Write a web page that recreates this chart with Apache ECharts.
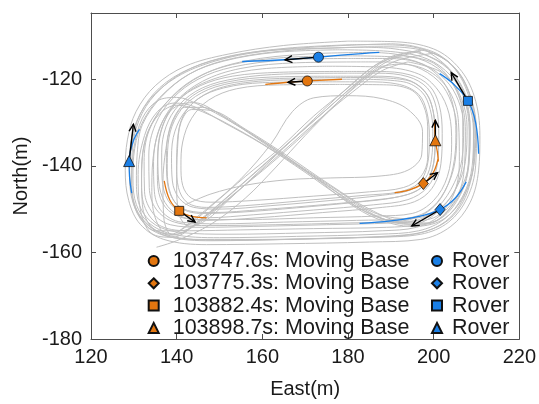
<!DOCTYPE html>
<html>
<head>
<meta charset="utf-8">
<script src="https://cdn.jsdelivr.net/npm/echarts@6/dist/echarts.min.js"></script>
<style>html,body{margin:0;padding:0;background:#fff}#c{width:539px;height:404px}</style>
</head>
<body>
<div id="c"></div>
<script>
// ---- axis ticks ----
const xTicks = [120, 140, 160, 180, 200, 220];
const yTicks = [-180, -160, -140, -120];

// ---- gray trajectory laps (East, North) ----
const lapO1 = [[180,-111.2],[165,-112.2],[152,-114.2],[142,-117],[135,-121.5],[130.5,-127.5],[128.5,-134],[128,-141],[128.8,-148],[131.5,-153.5],[137,-157],[147,-158.2],[165,-158],[185,-157.6],[197,-157],[204,-154],[208.5,-148.5],[210.5,-141],[210.8,-133],[209.5,-124],[206,-117.5],[200,-113],[190,-111.3],[180,-111.2]];
const lapO2 = [[182,-112],[166,-112.8],[153,-114.6],[143,-117.6],[136,-122],[131.5,-128],[129.5,-135],[129,-142],[129.8,-148.5],[132.5,-153],[138,-156.3],[148,-157.3],[166,-157],[186,-156.5],[197,-155.8],[203.5,-153],[207.8,-147.5],[209.8,-140],[210,-132],[208.8,-124.5],[205.5,-118],[199.5,-113.8],[191,-112.1],[182,-112]];
const lapO3 = [[184,-112.6],[168,-113.2],[154,-115],[144.5,-118],[137.5,-122.8],[132.5,-129],[130.2,-136],[129.8,-143],[130.6,-149],[133.5,-153.2],[139,-155.8],[150,-156.6],[168,-156.3],[187,-155.8],[196.5,-155],[202.5,-152.3],[206.8,-147],[209,-140],[209.3,-132],[208,-125],[204.8,-119],[199,-114.8],[191,-113],[184,-112.6]];
const lapO4 = [[178,-113.2],[163,-113.8],[151,-115.8],[143,-118.8],[136.5,-124],[132,-130.5],[130.8,-137],[130.6,-144],[131.6,-149.8],[135,-153.6],[141,-155.4],[152,-155.8],[170,-155.5],[188,-155],[196,-154.2],[201.5,-151.5],[205.8,-146.3],[208.2,-139.5],[208.5,-131.5],[207.2,-124.5],[204,-119.2],[198.5,-115.3],[190,-113.6],[178,-113.2]];
const lapO5 = [[186,-113.8],[170,-114.2],[156,-115.8],[146,-119],[138.5,-124.5],[133.8,-131],[132,-138],[131.8,-145],[133,-150.5],[136.5,-154],[143,-155],[155,-154.8],[172,-154.5],[189,-154.2],[196,-153.5],[200.5,-151],[204.8,-146],[207.4,-139],[207.8,-131],[206.5,-124.5],[203.3,-119.5],[198,-115.8],[191,-114.2],[186,-113.8]];
const lapO6 = [[180,-114.6],[165,-115],[153,-116.6],[144,-120],[137.5,-125.5],[133.5,-132],[132.4,-139],[132.5,-146],[134.5,-151],[138.5,-153.6],[146,-154.2],[158,-154],[175,-153.6],[190,-153.2],[196,-152.6],[200,-150.5],[204,-145.5],[206.6,-138.5],[207,-131],[205.8,-125],[202.8,-120.2],[197.5,-116.5],[190,-114.8],[180,-114.6]];
const lapO7 = [[190,-111.8],[175,-112.4],[160,-113.6],[149,-115.8],[140,-119.5],[133.5,-125],[130,-131.5],[129,-139],[129.5,-146.5],[131.8,-152],[136.5,-155.5],[145,-157],[160,-157],[180,-156.6],[194,-156],[202,-153.5],[206.5,-149],[209,-142],[209.8,-134],[209,-126],[206.5,-119.5],[201.5,-114.5],[195,-112.3],[190,-111.8]];
const lapO8 = [[176,-112.8],[161,-113.4],[150,-115.2],[141.5,-118.4],[135,-123.5],[131.2,-129.5],[129.6,-137],[129.5,-145],[130.8,-151],[134.5,-155],[141,-156.8],[153,-157.2],[172,-156.8],[190,-156.2],[198.5,-155],[204,-151.8],[207.6,-146],[209.5,-138],[209.6,-129.5],[207.6,-121.5],[203.5,-116],[197,-113.2],[187,-112.5],[176,-112.8]];
const lapM1 = [[183,-116],[168,-116.2],[155,-117.5],[146,-120.5],[139.5,-125.5],[135.8,-132],[134.6,-139],[134.8,-146],[136.5,-150.5],[141,-153],[150,-153.4],[165,-153],[182,-152.6],[193,-152.2],[198.5,-150.5],[202.5,-146],[205,-139],[205.4,-131.5],[204.2,-125.5],[201.2,-120.5],[195.5,-117],[188,-116],[183,-116]];
const lapM2 = [[175,-117],[160,-117.6],[150,-119.5],[142.5,-123],[137.8,-128.5],[135.8,-135],[135.5,-142],[136.2,-147.5],[139,-151],[144.5,-152.4],[156,-152.4],[172,-152],[187,-151.6],[195,-151],[200,-148],[203.2,-142.5],[204.2,-135],[203.6,-128],[201,-122.5],[196.5,-118.8],[188,-117.2],[175,-117]];
const lapM3 = [[180,-115.2],[165,-115.6],[153,-117.2],[145,-120],[139,-124.5],[135,-130.5],[133.5,-137.5],[133.6,-145],[135.2,-150],[139.5,-153],[148,-153.8],[163,-153.6],[180,-153.2],[192,-152.8],[198,-151],[202,-147],[204.5,-140.5],[205.2,-132.5],[204.4,-125.5],[201.8,-120],[196.5,-116.2],[188,-115.2],[180,-115.2]];
const lapI1 = [[180,-118.6],[165,-118.8],[154,-119.8],[146,-122],[140.5,-126],[137.5,-131],[136.5,-137],[136.6,-143],[138,-148],[141.5,-151],[147,-152],[158,-151.3],[172,-150.2],[186,-149],[194,-147.8],[198.5,-145],[200.8,-140],[201.2,-133],[200.6,-126.5],[198.5,-122],[194,-119.4],[187,-118.6],[180,-118.6]];
const lapI2 = [[176,-119.3],[162,-119.5],[152,-120.6],[145,-123],[140.5,-127],[138.2,-132],[137.6,-138],[137.8,-143.5],[139.3,-148],[142.5,-150.3],[148,-150.8],[160,-150.1],[174,-149],[187,-147.8],[194,-146.6],[198,-144.2],[200,-139.5],[200.4,-133],[199.8,-127],[197.8,-122.6],[193.5,-120],[186,-119.3],[176,-119.3]];
const lapI3 = [[183,-120],[168,-120.1],[156,-120.8],[148,-122.8],[142.5,-126.8],[139.6,-132],[138.8,-138],[139,-143.5],[140.6,-147.5],[144,-149.6],[150,-150],[162,-149.2],[176,-148],[188,-146.8],[194.5,-145.6],[198,-143],[199.5,-138.5],[199.8,-132],[199.2,-127],[197.3,-123],[193,-120.6],[183,-120]];
const lapI4 = [[172,-120.6],[160,-120.8],[151,-122],[145,-124.5],[141.5,-128.5],[140.2,-134],[140,-140],[140.4,-145],[142.5,-148.5],[147,-149.6],[156,-149.2],[170,-148],[184,-146.8],[192,-146],[196.5,-144],[198.5,-140],[199,-133.5],[198.4,-127.5],[196.5,-123.5],[192,-121.2],[184,-120.6],[172,-120.6]];
const lapI5 = [[178,-121.2],[164,-121.3],[154,-122.2],[147.5,-124.8],[143.5,-129],[141.4,-134.5],[141,-140],[141.4,-144.5],[143.5,-147.5],[148,-148.4],[158,-148],[172,-147],[185,-146],[193,-145],[197,-142.5],[198.6,-138],[198.6,-131],[197.6,-126],[195,-122.6],[189,-121.3],[178,-121.2]];
const lapI6 = [[185,-119.6],[170,-119.7],[158,-120.2],[149,-121.8],[143,-125],[139.5,-129.5],[138,-135],[137.8,-141],[138.6,-146.5],[141,-149.8],[146,-151],[155,-150.7],[168,-149.7],[182,-148.4],[191,-147.3],[196.8,-145.3],[199.6,-141],[200.3,-134],[199.9,-127.5],[198.2,-123.2],[194,-120.3],[185,-119.6]];
const lapI7 = [[179,-118.2],[164,-118.4],[153,-119.3],[145.5,-121.5],[140,-125.2],[136.8,-130.5],[135.6,-137],[135.8,-143.5],[137.3,-148.5],[140.8,-151.6],[147,-152.6],[159,-152],[174,-150.8],[188,-149.6],[195.5,-148.3],[199.6,-145.2],[201.7,-139.5],[202,-132.5],[201.3,-126],[199,-121.5],[194.5,-119],[187,-118.2],[179,-118.2]];
const lapF1 = [[200,-114],[192,-115.5],[186,-118.5],[178,-125],[170,-132.5],[162,-139.5],[154,-146],[147,-151.5],[141,-155],[135,-155],[131,-151],[129.5,-144],[130,-136],[132,-129],[135.5,-125],[140,-124.2],[145,-125.8],[153,-130],[162,-135.5],[172,-142.5],[180,-148.5],[187,-152.3],[195,-154],[202,-152.5],[207,-147],[209.3,-139],[209.3,-130],[207.5,-122],[204,-116.5],[200,-114]];
const lapF2 = [[196,-113.5],[189,-115.5],[183,-120],[175,-127],[167,-134],[159,-141],[151,-148],[145,-153],[139,-156.5],[134,-155.5],[131.5,-150],[131,-142],[132.5,-133],[135.5,-127.5],[139.5,-125.5],[144,-126.3],[151,-130],[160,-135],[170,-141.5],[178,-147],[186,-151.5],[194,-153.5],[201,-152.5],[205.8,-147.5],[208.2,-140],[208.5,-131],[207,-123],[203,-117],[196,-113.5]];
const lapF3 = [[194,-116],[188,-118],[181,-123],[173,-129.5],[165,-136.5],[157,-143.5],[150,-149.5],[144,-154],[139,-156],[137,-152],[136.8,-144],[137.5,-136],[139,-130],[141.8,-126.5],[146,-126.5],[153,-130],[163,-136.5],[173,-143],[182,-149],[190,-152.8],[198,-153.5],[204,-149.5],[207,-142],[207.4,-132],[206,-124],[202,-118.5],[194,-116]];
const lapF4 = [[198,-113.2],[190,-114.8],[184,-118.5],[176,-125.5],[168,-133],[160,-140],[152,-147],[146,-152],[140,-155.8],[134.5,-154.5],[132,-149],[131.8,-141],[133,-133],[136,-128],[140,-126],[146,-127.5],[155,-132],[165,-138],[175,-144.5],[184,-150.5],[192,-153],[199,-153.2],[204.5,-149],[207.8,-142],[208.3,-132],[207,-124],[203.5,-117.5],[198,-113.2]];
const lapF5 = [[192,-114.5],[186,-117],[180,-122],[172,-128.5],[164,-136],[156,-142.5],[149,-148.5],[143,-153.5],[138,-156],[135,-152],[134.2,-145],[134.8,-136],[136.8,-129.5],[140,-126.2],[144,-125.4],[150,-128],[158,-133],[168,-139.5],[178,-146],[186,-150.8],[194,-152.2],[200.5,-150.5],[205,-145.5],[206.8,-138],[206.8,-129],[205,-122],[200,-116.3],[192,-114.5]];
const lapF6 = [[188,-117],[182,-121],[175,-127],[167,-134],[159,-141.5],[152,-148],[147,-152.5],[143,-154],[140.5,-151],[140,-144],[140.2,-136],[141,-130],[143.5,-127],[148,-127.2],[156,-131.5],[166,-137.8],[176,-144.5],[185,-150],[193,-152.8],[200,-152],[204.5,-147],[206,-139],[205.8,-130],[203.8,-123],[199,-118.2],[192,-116.5],[188,-117]];
const lapS1 = [[140,-155.5],[147,-150],[155,-143],[162,-135],[167,-127.5],[172,-124.3],[180,-123.8],[188,-124.5],[194,-127],[197.4,-132],[197.2,-137.5],[194,-141],[187,-142.4],[176,-142.8],[166,-143.2],[156,-144.5],[148,-146.5],[142,-149]];
const lapT1 = [[135.3,-158.8],[140,-157.3],[148,-153.5],[156,-147.5],[163,-140.5],[170,-133],[177,-126],[184,-119.5],[190,-115.5],[197,-113.5]];
const grayLaps = [lapO1, lapO2, lapO3, lapO4, lapO5, lapO6, lapO7, lapO8, lapM1, lapM2, lapM3,
  lapI1, lapI2, lapI3, lapI4, lapI5, lapI6, lapI7, lapF1, lapF2, lapF3, lapF4, lapF5, lapF6, lapS1, lapT1];

// ---- highlighted segments ----
const baseSeg1 = [[178.6,-120],[170.5,-120.4],[166,-120.7],[160.7,-121.2]];
const baseSeg2 = [[201,-138.5],[200.2,-141],[199,-142.8],[197.6,-144.1],[194.5,-145.5],[190.9,-146.2]];
const baseSeg3 = [[137.1,-143.5],[138.4,-147.9],[140.6,-150.4],[143.5,-151.7],[147,-152]];
const baseSeg4 = [[200.2,-129.5],[200.4,-134.1],[200.9,-137],[201.1,-139]];
const roverSeg1 = [[187.3,-113.8],[180,-114.3],[173.1,-114.9],[165,-115.5],[155.3,-115.9]];
const roverSeg2 = [[201.4,-118.7],[204.5,-121],[208,-125],[209.8,-130],[210.5,-137.2]];
const roverSeg3 = [[207.6,-143.7],[205,-147.5],[201.5,-150.1],[196,-151.8],[190,-152.7],[182.7,-153.3]];
const roverSeg4 = [[131.3,-131.6],[129.8,-134.5],[128.9,-138.9],[129,-142.5],[129.5,-146.3]];

// ---- markers ----
const baseNames = ['103747.6s: Moving Base','103775.3s: Moving Base','103882.4s: Moving Base','103898.7s: Moving Base'];
const roverNames = ['Rover','Rover','Rover','Rover'];
const symbols = ['circle','diamond','rect','triangle'];
const basePoints = [[170.5,-120.4],[197.6,-144.1],[140.6,-150.4],[200.4,-134.1]];
const roverPoints = [[173.1,-114.9],[201.5,-150.1],[208.0,-125.0],[128.9,-138.9]];
// arrow end points (heading)
const baseHeads = [[166,-120.7],[200.9,-141.6],[144.3,-153],[200.4,-129.5]];
const roverHeads = [[165.3,-115.5],[194.9,-153.9],[204.1,-118.5],[129.9,-130.4]];

const ORANGE = '#e3760f';
const BLUE = '#1a7fe6';
const GRAY = '#bfbfbf';
const AX = '#4d4d4d';
const FONT = 'Liberation Sans, Arial, Helvetica, sans-serif';

const series = [];
grayLaps.forEach(l => series.push({
  type: 'line', data: l, showSymbol: false, smooth: 0.35, silent: true, z: 1,
  lineStyle: { color: GRAY, width: 1 }
}));
[baseSeg1, baseSeg2, baseSeg3, baseSeg4].forEach(s => series.push({
  type: 'line', data: s, showSymbol: false, smooth: 0.4, silent: true, z: 2,
  lineStyle: { color: ORANGE, width: 1.3 }
}));
[roverSeg1, roverSeg2, roverSeg3, roverSeg4].forEach(s => series.push({
  type: 'line', data: s, showSymbol: false, smooth: 0.4, silent: true, z: 2,
  lineStyle: { color: BLUE, width: 1.3 }
}));

// arrows
const arrowData = [];
basePoints.forEach((p, i) => arrowData.push([p[0], p[1], baseHeads[i][0], baseHeads[i][1]]));
roverPoints.forEach((p, i) => arrowData.push([p[0], p[1], roverHeads[i][0], roverHeads[i][1]]));
series.push({
  type: 'custom', z: 3, silent: true,
  encode: { x: [0, 2], y: [1, 3] },
  data: arrowData,
  renderItem: function (params, api) {
    const a = api.coord([api.value(0), api.value(1)]);
    const b = api.coord([api.value(2), api.value(3)]);
    const ang = Math.atan2(b[1] - a[1], b[0] - a[0]);
    const L = 8, w = 0.45;
    const h1 = [b[0] - L * Math.cos(ang - w), b[1] - L * Math.sin(ang - w)];
    const h2 = [b[0] - L * Math.cos(ang + w), b[1] - L * Math.sin(ang + w)];
    return {
      type: 'group', children: [
        { type: 'polyline', shape: { points: [a, b] }, style: { stroke: '#000', lineWidth: 1.4, fill: null } },
        { type: 'polyline', shape: { points: [h1, b, h2] }, style: { stroke: '#000', lineWidth: 1.4, fill: null } }
      ]
    };
  }
});

const sizes = [10, [10, 12], 9, [11, 11]];
basePoints.forEach((p, i) => series.push({
  type: 'scatter', name: baseNames[i], data: [p], symbol: symbols[i], symbolSize: sizes[i], z: 5,
  itemStyle: { color: ORANGE, borderColor: '#111', borderWidth: 0.8, opacity: 1 }
}));
roverPoints.forEach((p, i) => series.push({
  type: 'scatter', name: roverNames[i] + ' ' + (i + 1), data: [p], symbol: symbols[i], symbolSize: sizes[i], z: 5,
  itemStyle: { color: BLUE, borderColor: '#111', borderWidth: 0.8, opacity: 1 }
}));

const axisCommon = {
  axisLine: { show: true, onZero: false, lineStyle: { color: AX, width: 1 } },
  axisTick: { show: true, inside: true, length: 5, lineStyle: { color: AX } },
  splitLine: { show: false }
};
const labelStyle = { fontFamily: FONT, fontSize: 20, color: '#1a1a1a' };
const isTick = (arr) => (v) => arr.some(t => Math.abs(t - v) < 1e-6) ? String(v) : '';

const legendCommon = {
  orient: 'vertical', top: 245, itemWidth: 10, itemHeight: 10, itemGap: 0.3,
  selectedMode: false
};
const legTxt = { fontFamily: FONT, fontSize: 21.5, color: '#1a1a1a', lineHeight: 21.5 };

const option = {
  animation: false,
  backgroundColor: '#fff',
  grid: { left: 91, right: 19, top: 13, bottom: 65, containLabel: false },
  xAxis: [
    Object.assign({
      type: 'value', min: 120, max: 220, interval: 20, position: 'bottom',
      name: 'East(m)', nameLocation: 'middle', nameGap: 40,
      nameTextStyle: { fontFamily: FONT, fontSize: 20, color: '#1a1a1a' },
      axisLabel: Object.assign({ margin: 8, formatter: isTick(xTicks) }, labelStyle)
    }, axisCommon),
    Object.assign({
      type: 'value', min: 120, max: 220, interval: 20, position: 'top',
      axisLabel: { show: false }
    }, axisCommon)
  ],
  yAxis: [
    Object.assign({
      type: 'value', min: -180, max: -104.7, interval: 20, position: 'left',
      name: 'North(m)', nameLocation: 'middle', nameGap: 57, nameRotate: 90,
      nameTextStyle: { fontFamily: FONT, fontSize: 20, color: '#1a1a1a' },
      axisLabel: Object.assign({ margin: 9, formatter: isTick(yTicks), customValues: yTicks }, labelStyle)
    }, axisCommon, { axisTick: { show: true, inside: true, length: 5, lineStyle: { color: AX }, customValues: yTicks } }),
    Object.assign({
      type: 'value', min: -180, max: -104.7, interval: 20, position: 'right',
      axisLabel: { show: false }
    }, axisCommon, { axisTick: { show: true, inside: true, length: 5, lineStyle: { color: AX }, customValues: yTicks } })
  ],
  legend: [
    Object.assign({}, legendCommon, { left: 142.7, data: baseNames,
      textStyle: Object.assign({}, legTxt, { padding: [0, 0, 0, 9] }) }),
    Object.assign({}, legendCommon, { left: 426, data: roverNames.map((n, i) => n + ' ' + (i + 1)),
      textStyle: Object.assign({}, legTxt, { padding: [0, 0, 0, 5] }),
      formatter: () => 'Rover' })
  ],
  series: series
};

const chart = echarts.init(document.getElementById('c'), null, { renderer: 'canvas' });
chart.setOption(option);
</script>
</body>
</html>
